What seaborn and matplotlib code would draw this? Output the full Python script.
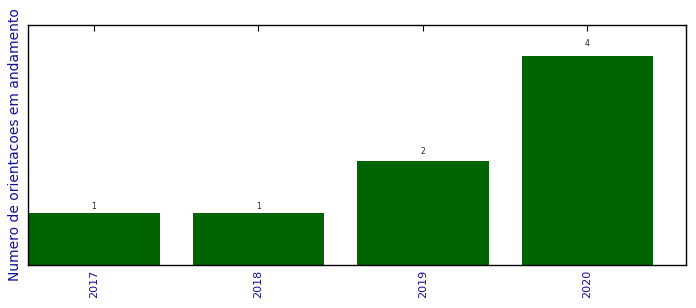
import matplotlib
matplotlib.use("Agg")
import matplotlib.pyplot as plt
import seaborn as sns
import pandas as pd

years = ["2017", "2018", "2019", "2020"]
counts = [1, 1, 2, 4]

sns.set_style("white")
plt.rcParams['font.family'] = ['DejaVu Sans']

df = pd.DataFrame({"ano": years, "n": counts})

fig = plt.figure(figsize=(6.96, 3.08), dpi=100)
ax = fig.add_axes([28/696, 1-265/308, (686-28)/696, (265-25)/308])
sns.barplot(data=df, x="ano", y="n", color="#006400", saturation=1, width=0.8,
            edgecolor="none", linewidth=0, ax=ax)

for i, v in enumerate(counts):
    ax.text(i, v * 1.04, str(v), ha="center", va="bottom", fontsize=5.5, color="#222222")

ax.set_xlim(-0.4, 3.6)
ax.set_ylim(0, max(counts) * 1.15)
ax.set_yticks([])
ax.set_xlabel("")
ax.set_ylabel("Numero de orientacoes em andamento", fontsize=10, color="#10109a")
ax.yaxis.set_label_coords(-0.009, 0.5)
ax.tick_params(axis="x", direction="in", length=4, width=0.8, top=True, bottom=True,
               labelsize=8, labelcolor="#10109a", rotation=90, pad=3.5, color="black")
for s in ax.spines.values():
    s.set_visible(True)
    s.set_color("black")
    s.set_linewidth(1)

fig.savefig("out.png", dpi=100)
